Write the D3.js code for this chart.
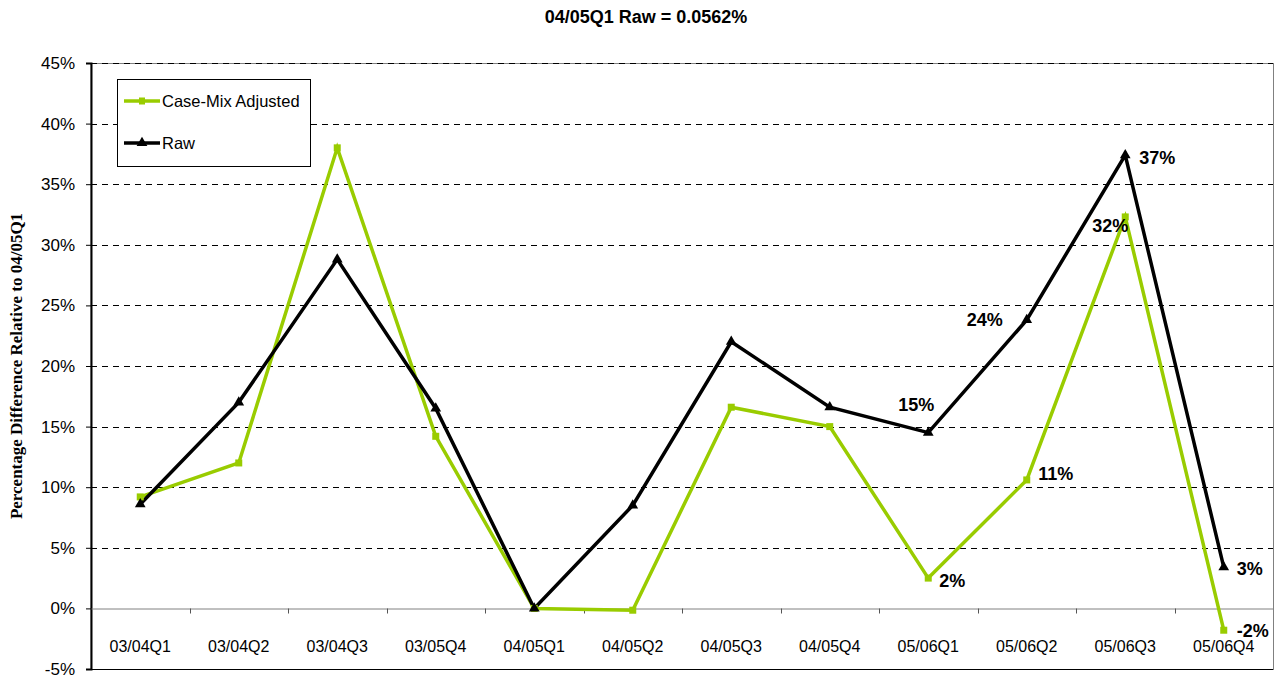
<!DOCTYPE html>
<html>
<head>
<meta charset="utf-8">
<script src="https://cdn.jsdelivr.net/npm/d3@7"></script>
<style>
  body { margin: 0; background: #fff; }
  svg { display: block; font-family: "Liberation Sans", Arial, sans-serif; }
</style>
</head>
<body>
<div id="chart"></div>
<script>
// quarters and the two series (percent difference vs 04/05Q1)
var quarters = ["03/04Q1", "03/04Q2", "03/04Q3", "03/05Q4", "04/05Q1", "04/05Q2",
                "04/05Q3", "04/05Q4", "05/06Q1", "05/06Q2", "05/06Q3", "05/06Q4"];
var caseMix = [9.2, 12.0, 38.0, 14.2, 0.0, -0.15, 16.6, 15.0, 2.5, 10.6, 32.3, -1.8];
var raw     = [8.6, 17.0, 28.8, 16.5, 0.0, 8.5, 22.0, 16.6, 14.5, 23.8, 37.4, 3.4];
var yTicks  = [-5, 0, 5, 10, 15, 20, 25, 30, 35, 40, 45];

// data labels shown on the last four quarters
var rawLabels = [{ i: 8, text: "15%" }, { i: 9, text: "24%" }, { i: 10, text: "37%" }, { i: 11, text: "3%" }];
var mixLabels = [{ i: 8, text: "2%" }, { i: 9, text: "11%" }, { i: 10, text: "32%" }, { i: 11, text: "-2%" }];

var W = 1278, H = 679;
var margin = { top: 63, right: 5, bottom: 10, left: 91 },
    width = W - margin.left - margin.right,
    height = H - margin.top - margin.bottom;

var x = d3.scaleBand().domain(quarters).range([0, width]),
    y = d3.scaleLinear().domain([-5, 45]).range([height, 0]);

var svg = d3.select("#chart").append("svg")
    .attr("width", W)
    .attr("height", H);

svg.append("text")
    .attr("x", 646).attr("y", 23)
    .attr("text-anchor", "middle")
    .style("font-weight", "bold")
    .style("font-size", "18px")
    .text("04/05Q1 Raw = 0.0562%");

svg.append("text")
    .attr("transform", "translate(22," + (margin.top + height / 2) + ") rotate(-90)")
    .attr("text-anchor", "middle")
    .style("font-family", "'Liberation Serif', 'Times New Roman', serif")
    .style("font-weight", "bold")
    .style("font-size", "17px")
    .text("Percentage Difference Relative to 04/05Q1");

var g = svg.append("g")
    .attr("transform", "translate(" + margin.left + "," + margin.top + ")");

// plot area border
g.append("rect")
    .attr("x", 0).attr("y", 0.5)
    .attr("width", width + 0.5).attr("height", height)
    .attr("fill", "none")
    .attr("stroke", "#808080");

// dashed gridlines
g.append("g").selectAll("line")
    .data(yTicks.filter(function (d) { return d > 0; }))
    .enter().append("line")
    .attr("x1", 0).attr("x2", width)
    .attr("y1", function (d) { return Math.round(y(d)) + 0.5; })
    .attr("y2", function (d) { return Math.round(y(d)) + 0.5; })
    .attr("stroke", "#000")
    .attr("stroke-dasharray", "6,5");

g.append("line")
    .attr("x1", 0).attr("x2", width)
    .attr("y1", height + 0.5).attr("y2", height + 0.5)
    .attr("stroke", "#000");

// y axis
var yAxis = g.append("g")
    .call(d3.axisLeft(y).tickValues(yTicks).tickFormat(function (d) { return d + "%"; }).tickSize(5).tickPadding(11));
yAxis.select(".domain").attr("stroke-width", 2);
yAxis.selectAll("text").style("font-size", "17px").style("font-family", "'Liberation Sans', Arial, sans-serif");

// x axis at 0%
var xAxis = g.append("g")
    .attr("transform", "translate(0," + (Math.round(y(0)) + 0.5) + ")")
    .call(d3.axisBottom(x).tickSize(0).tickPadding(32));
xAxis.select(".domain").attr("stroke", "#808080");
xAxis.selectAll("text").style("font-size", "16px").style("font-family", "'Liberation Sans', Arial, sans-serif");
xAxis.selectAll(".bound")
    .data(quarters.slice(1))
    .enter().append("line")
    .attr("x1", function (d) { return Math.round(x(d)) + 0.5; })
    .attr("x2", function (d) { return Math.round(x(d)) + 0.5; })
    .attr("y1", 0).attr("y2", 5)
    .attr("stroke", "#555");

var cx = function (d, i) { return x(quarters[i]) + x.bandwidth() / 2; };

var line = d3.line()
    .x(cx)
    .y(function (d) { return y(d); });

g.append("path")
    .datum(caseMix)
    .attr("d", line)
    .attr("fill", "none")
    .attr("stroke", "#99cc00")
    .attr("stroke-width", 3.5);

g.append("path")
    .datum(raw)
    .attr("d", line)
    .attr("fill", "none")
    .attr("stroke", "#000")
    .attr("stroke-width", 3.5);

// markers
g.append("g").selectAll("rect")
    .data(caseMix)
    .enter().append("rect")
    .attr("x", function (d, i) { return cx(d, i) - 3.5; })
    .attr("y", function (d) { return y(d) - 3.5; })
    .attr("width", 7).attr("height", 7)
    .attr("fill", "#99cc00");

var tri = d3.symbol().type(d3.symbolTriangle).size(50);
g.append("g").selectAll("path")
    .data(raw)
    .enter().append("path")
    .attr("d", tri)
    .attr("transform", function (d, i) { return "translate(" + cx(d, i) + "," + y(d) + ")"; })
    .attr("fill", "#000");

// data labels, nudged off the points
var rawNudge = [[-12, -28], [-42, 0], [32, 2], [26, 1]];
var mixNudge = [[24, 2], [29, -6], [-15, 9], [29, 0]];

function addLabels(labels, values, nudge) {
    g.append("g").selectAll("text")
        .data(labels)
        .enter().append("text")
        .attr("x", function (d, k) { return cx(null, d.i) + nudge[k][0]; })
        .attr("y", function (d, k) { return y(values[d.i]) + nudge[k][1]; })
        .attr("dy", "0.36em")
        .attr("text-anchor", "middle")
        .style("font-weight", "bold")
        .style("font-size", "18px")
        .text(function (d) { return d.text; });
}
addLabels(rawLabels, raw, rawNudge);
addLabels(mixLabels, caseMix, mixNudge);

// legend
var leg = svg.append("g").attr("transform", "translate(117,79)");
leg.append("rect")
    .attr("x", 0.5).attr("y", 0.5)
    .attr("width", 193).attr("height", 87)
    .attr("fill", "#fff")
    .attr("stroke", "#000");

var legItems = [
    { name: "Case-Mix Adjusted", color: "#99cc00", y: 22 },
    { name: "Raw", color: "#000", y: 64 }
];
legItems.forEach(function (it, k) {
    leg.append("line")
        .attr("x1", 7).attr("x2", 43)
        .attr("y1", it.y).attr("y2", it.y)
        .attr("stroke", it.color)
        .attr("stroke-width", 3.5);
    if (k === 0) {
        leg.append("rect").attr("x", 22).attr("y", it.y - 3.5).attr("width", 6).attr("height", 7).attr("fill", it.color);
    } else {
        leg.append("path").attr("d", tri).attr("transform", "translate(25," + it.y + ")").attr("fill", it.color);
    }
    leg.append("text")
        .attr("x", 45).attr("y", it.y)
        .attr("dy", "0.36em")
        .style("font-size", "16.5px")
        .text(it.name);
});
</script>
</body>
</html>
